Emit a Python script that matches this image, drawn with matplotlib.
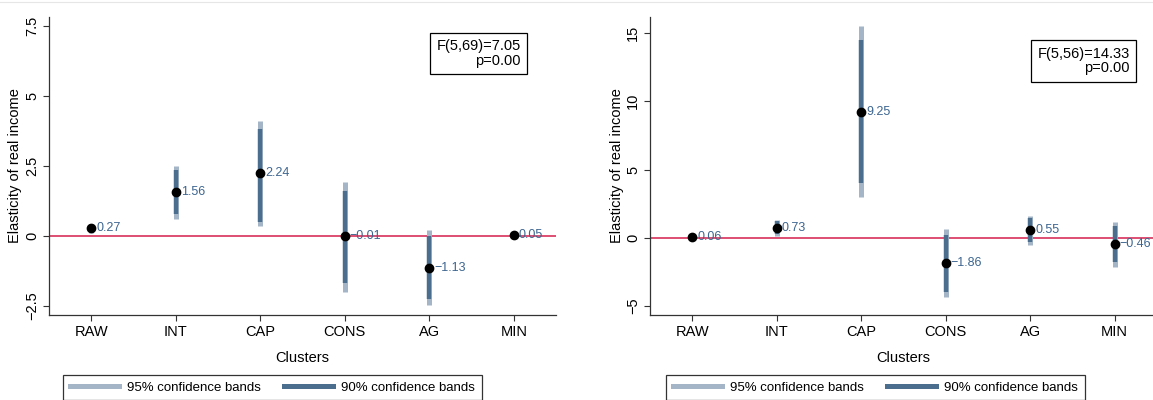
import matplotlib
matplotlib.use("Agg")
import matplotlib.pyplot as plt
from matplotlib.lines import Line2D
import numpy as np

plt.rcParams['font.family'] = ['Liberation Sans', 'DejaVu Sans']

clusters = ['RAW', 'INT', 'CAP', 'CONS', 'AG', 'MIN']

left_coef = [0.27, 1.56, 2.24, -0.01, -1.13, 0.05]
left_lo95 = [0.10, 0.61, 0.37, -1.99, -2.46, -0.02]
left_hi95 = [0.44, 2.51, 4.12, 1.94, 0.21, 0.12]
left_lo90 = [0.13, 0.77, 0.51, -1.67, -2.25, 0.00]
left_hi90 = [0.41, 2.36, 3.81, 1.62, -0.01, 0.10]
left_ftext = "F(5,69)=7.05\np=0.00"
left_yticks = [-2.5, 0, 2.5, 5, 7.5]
left_yticklabels = ['\u22122.5', '0', '2.5', '5', '7.5']

right_coef = [0.06, 0.73, 9.25, -1.86, 0.55, -0.46]
right_lo95 = [-0.10, 0.17, 2.98, -4.34, -0.51, -2.10]
right_hi95 = [0.22, 1.29, 15.50, 0.62, 1.61, 1.18]
right_lo90 = [-0.07, 0.26, 4.00, -3.93, -0.32, -1.79]
right_hi90 = [0.19, 1.20, 14.48, 0.21, 1.42, 0.87]
right_ftext = "F(5,56)=14.33\np=0.00"
right_yticks = [-5, 0, 5, 10, 15]
right_yticklabels = ['\u22125', '0', '5', '10', '15']

C95 = '#a4b5c7'
C90 = '#4b6e8e'
CRED = '#d41f4c'
CLAB = '#3c6590'

W, H = 1153, 400
fig = plt.figure(figsize=(W / 100, H / 100), dpi=100)
fig.add_artist(Line2D([0, 1], [1 - 2 / H, 1 - 2 / H], color='#e6e6e6', lw=0.8))


def panel(x0px, coef, lo95, hi95, lo90, hi90, ylim, yticks, yticklabels, ftext, fpos, legx):
    ax = fig.add_axes([x0px / W, 1 - 315 / H, 507 / W, 298 / H])
    x = np.arange(1, len(clusters) + 1)
    ax.axhline(0, color=CRED, lw=1.1, zorder=1)
    ax.vlines(x, lo95, hi95, color=C95, lw=3.6, zorder=2)
    ax.vlines(x, lo90, hi90, color=C90, lw=3.2, zorder=3)
    ax.plot(x, coef, 'o', color='black', ms=6, zorder=4)
    for xi, v in zip(x, coef):
        ax.annotate(f"{v:.2f}".replace('-', '\u2212'), (xi, v), xytext=(3.5, 0),
                    textcoords='offset points', ha='left', va='center',
                    color=CLAB, fontsize=9, zorder=5)
    ax.set_xlim(0.5, 6.5)
    ax.set_ylim(*ylim)
    ax.set_xticks(x)
    ax.set_xticklabels(clusters, fontsize=10.5)
    ax.set_yticks(yticks)
    ax.set_yticklabels(yticklabels, fontsize=10.5, rotation=90, va='center')
    for s in ['top', 'right']:
        ax.spines[s].set_visible(False)
    for s in ['left', 'bottom']:
        ax.spines[s].set_color('#333333')
        ax.spines[s].set_linewidth(0.9)
    ax.tick_params(direction='out', length=4, width=0.8, color='#333333', pad=3)
    ax.set_xlabel('Clusters', fontsize=10.5, labelpad=9)
    ax.set_ylabel('Elasticity of real income', fontsize=10.5, labelpad=2)
    ax.text(fpos[0], fpos[1], ftext, transform=ax.transAxes, ha='right', va='top',
            fontsize=10.5, linespacing=1.05,
            bbox=dict(boxstyle='square,pad=0.45', fc='white', ec='black', lw=0.9))
    handles = [Line2D([], [], color=C95, lw=3.6), Line2D([], [], color=C90, lw=3.6)]
    leg = fig.legend(handles, ['95% confidence bands', '90% confidence bands'],
                     loc='upper center', bbox_to_anchor=(legx / W, 1 - 375 / H),
                     ncol=2, fontsize=9.5, frameon=True, fancybox=False,
                     handlelength=3.7, handletextpad=0.6, columnspacing=1.8,
                     borderpad=0.5, borderaxespad=0)
    leg.get_frame().set_edgecolor('black')
    leg.get_frame().set_linewidth(0.9)
    return ax


panel(49, left_coef, left_lo95, left_hi95, left_lo90, left_hi90,
      (-2.82, 7.82), left_yticks, left_yticklabels, left_ftext, (0.93, 0.925), 272.5)
panel(650, right_coef, right_lo95, right_hi95, right_lo90, right_hi90,
      (-5.65, 16.17), right_yticks, right_yticklabels, right_ftext, (0.946, 0.9), 875.5)

fig.savefig('out.png', dpi=100)
